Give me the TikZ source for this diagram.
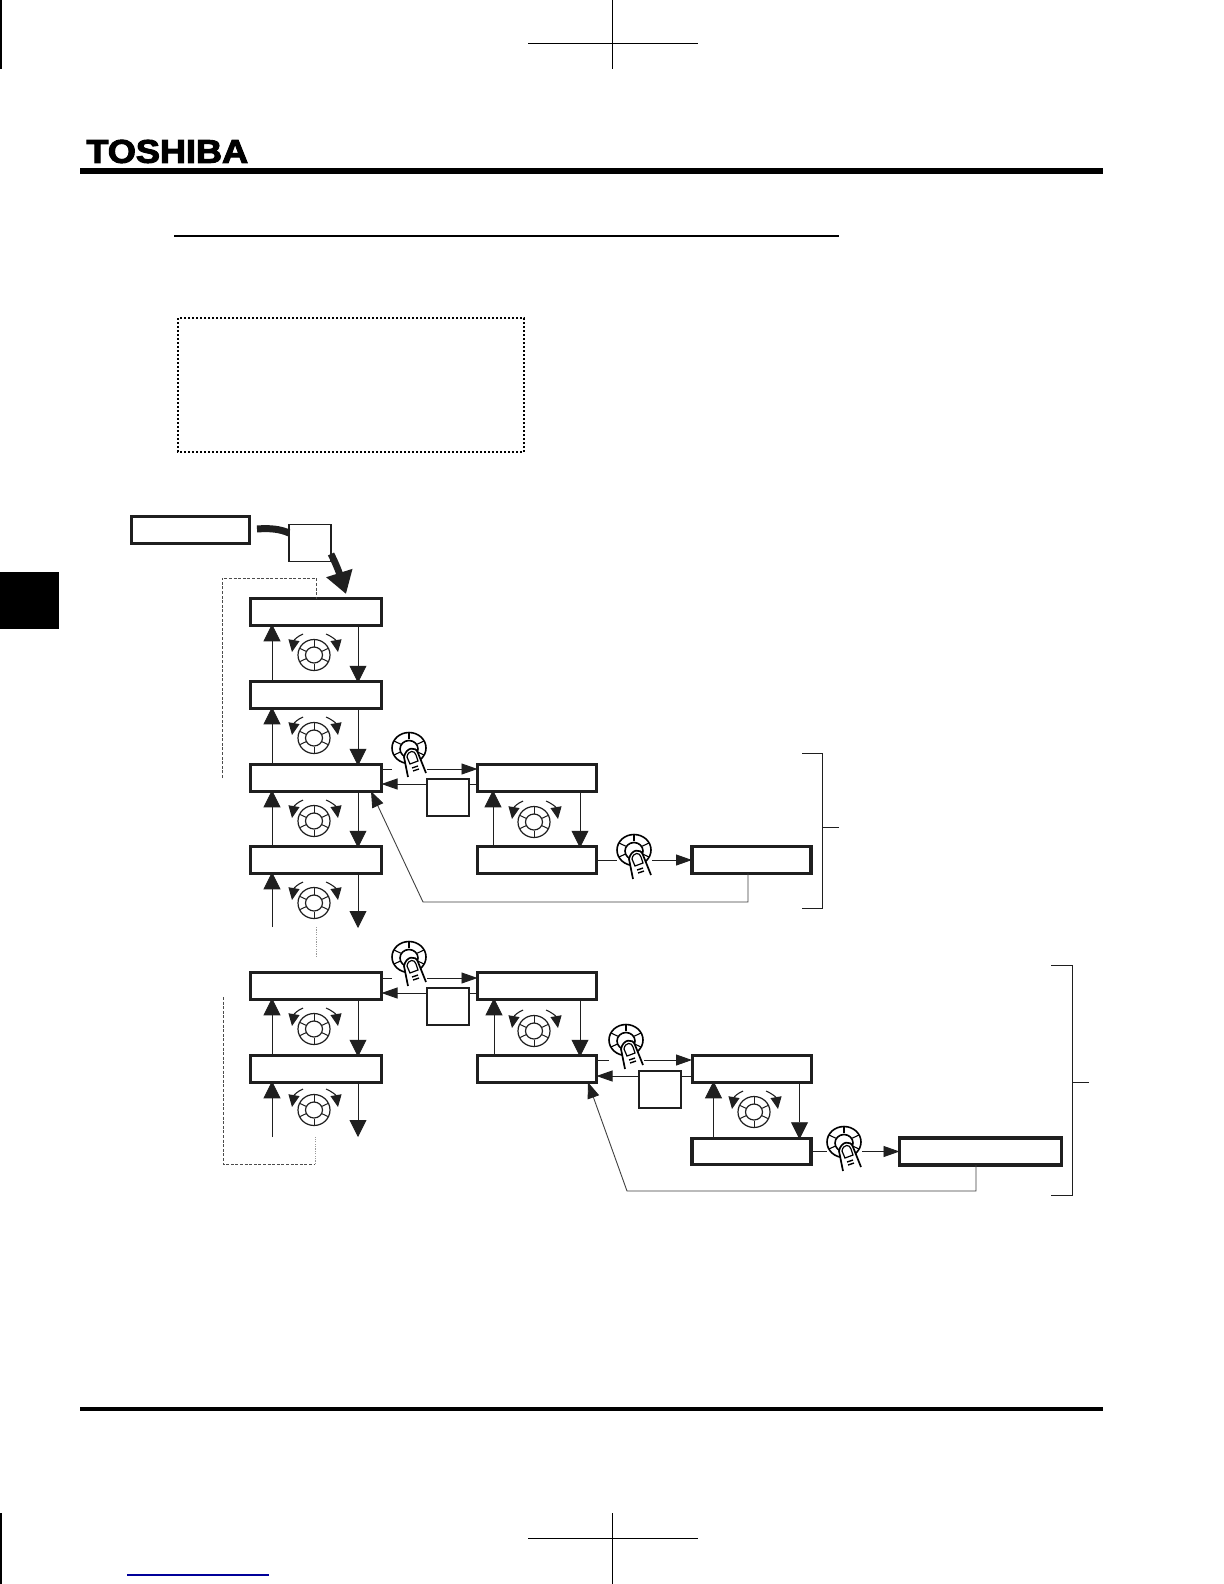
\documentclass[tikz,border=0pt]{standalone}
\usepackage{fontspec}
\usetikzlibrary{arrows.meta,calc}
\newfontfamily\logofont[BoldFeatures={FakeBold=3}]{Liberation Sans}
\definecolor{ink}{HTML}{1F1F1F}
\tikzset{
  lcd/.style={draw=ink,line width=1.5pt,fill=white,inner sep=0pt,outer sep=0pt,minimum width=65.5pt,minimum height=13.25pt},
  lcdm/.style={lcd,minimum width=59.5pt},
  lcdw/.style={lcd,line width=1.75pt,minimum width=81pt,minimum height=13.5pt},
  esckey/.style={draw=ink,line width=.75pt,fill=white,inner sep=0pt,outer sep=0pt,minimum width=21pt,minimum height=18.5pt},
  conn/.style={draw=ink,line width=.45pt},
  vup/.style={conn,-{Triangle[length=8.5pt,width=8.5pt]},shorten >=-.5pt},
  hor/.style={conn,-{Triangle[length=8pt,width=5.5pt]}},
  ret/.style={draw=ink!85,line width=.45pt,-{Triangle[length=8pt,width=6pt,color=ink,fill=ink]}},
  dashedlink/.style={draw=ink!80,line width=.45pt,dash pattern=on 1.5pt off .8pt},
  dottedlink/.style={draw=ink!45,line width=.5pt,dash pattern=on .6pt off .6pt},
  rule/.style={draw=black},
  dial/.pic={
    \draw[ink,line width=.6pt] (0,0) ellipse [x radius=16,y radius=15.5];
    \draw[ink,line width=.6pt] (0,0) ellipse [x radius=8.5,y radius=8];
    \foreach \a in {90,270,25,155,205,335}
      \draw[ink,line width=.5pt] (\a:8.5) -- (\a:15.5);
    \draw[ink,line width=.55pt,-{Triangle[length=6pt,width=5.5pt]}] (-11,-21) .. controls (-16,-19) and (-20,-15) .. (-22,-3);
    \draw[ink,line width=.55pt,-{Triangle[length=6pt,width=5.5pt]}] (12,-21) .. controls (17,-19) and (22,-15) .. (24,-3);
  },
  press/.pic={
    \draw[black,line width=.8pt] (0,0) ellipse [x radius=17,y radius=15.5];
    \draw[black,line width=.8pt] (0,1) ellipse [x radius=9,y radius=8.5];
    \foreach \a in {90,270,25,155,205,335}
      \draw[black,line width=.55pt] (\a:9) -- (\a:16.5);
    \fill[white] (-5,9) .. controls (-3,-1) and (7,-2) .. (9,5) -- (19,27) -- (0,31) -- cycle;
    \draw[black,line width=.85pt] (-1,29) -- (-5,9) .. controls (-3,-1) and (7,-2) .. (9,5) -- (17,25);
    \draw[black,line width=.6pt] (-2,9) .. controls (-1,2) and (6,2) .. (7,7) -- (9,13) -- (1,16) -- cycle;
    \draw[black,line width=.7pt] (3,20) -- (9,18) (4,23) -- (10,21);
    \coordinate (in) at (-17,0);
    \coordinate (out) at (18,0);
  }
}
\begin{document}
\begin{tikzpicture}[x=.5pt,y=-.5pt]
\useasboundingbox (0,0) rectangle (1224,1584);
\fill[white] (0,0) rectangle (1224,1584);

% crop marks
\draw[rule,line width=.6pt] (1,0) -- (1,69);
\draw[rule,line width=.6pt] (612.5,0) -- (612.5,69);
\draw[rule,line width=.6pt] (528,43.5) -- (698,43.5);
\draw[rule,line width=.6pt] (1,1513) -- (1,1584);
\draw[rule,line width=.6pt] (612.5,1513) -- (612.5,1584);
\draw[rule,line width=.6pt] (528,1538.5) -- (698,1538.5);
\draw[blue!60!black,line width=.6pt] (127,1575) -- (269,1575);

% header and page furniture
\node[anchor=south west,inner sep=0pt,xscale=1.1,font=\logofont\bfseries\fontsize{16.4}{16.4}\selectfont,text=black] (logo) at (86,163.5) {TOSHIBA};
\fill[black] (80,168) rectangle (1103,174);
\draw[rule,line width=1pt] (174,236) -- (839,236);
\fill[black] (0,572) rectangle (59,629);
\fill[black] (80,1407) rectangle (1103,1411);
\draw[black,line width=1.1pt,dash pattern=on 1pt off 1pt] (178,318) rectangle (524,452);

% displays
\node[lcdm,minimum width=59pt] (start) at (190,530) {};
\node[lcd] (A) at (316,612) {};
\node[lcd] (B) at (316,695) {};
\node[lcd] (C) at (316,778) {};
\node[lcd] (D) at (316,860) {};
\node[lcd] (H) at (316,986) {};
\node[lcd] (I) at (316,1069) {};
\node[lcdm] (E) at (537,778) {};
\node[lcdm] (F) at (537,860) {};
\node[lcdm] (J) at (537,986) {};
\node[lcdm] (K) at (537,1069) {};
\node[lcdm,line width=1.7pt] (G) at (751.5,860) {};
\node[lcdm] (L) at (751.5,1069) {};
\node[lcdm,line width=1.7pt] (M) at (751.5,1151.5) {};
\node[lcdw] (N) at (980.5,1151.5) {};

% dials
\pic at (314,655) {dial};
\pic at (314,738) {dial};
\pic at (314,821) {dial};
\pic at (314,903) {dial};
\pic at (314,1029) {dial};
\pic at (314,1110) {dial};
\pic at (534,822) {dial};
\pic at (534,1031) {dial};
\pic at (754,1112) {dial};

% vertical connectors
\foreach \u/\l in {B/A,C/B,D/C,I/H}
  \draw[vup] ([xshift=-22pt]\u.north) -- ([xshift=-22pt]\l.south);
\foreach \u/\l in {A/B,B/C,C/D,H/I}
  \draw[vup] ([xshift=21pt]\u.south) -- ([xshift=21pt]\l.north);
\draw[vup] ([xshift=-22pt]F.north) -- ([xshift=-22pt]E.south);
\draw[vup] ([xshift=21.5pt]E.south) -- ([xshift=21.5pt]F.north);
\draw[vup] ([xshift=-21.5pt]K.north) -- ([xshift=-21.5pt]J.south);
\draw[vup] ([xshift=21.5pt]J.south) -- ([xshift=21.5pt]K.north);
\draw[vup] ([xshift=-19pt]M.north) -- ([xshift=-19pt]L.south);
\draw[vup] ([xshift=24pt]L.south) -- ([xshift=24pt]M.north);

% open-ended arrows below D and I
\coordinate (dup) at (272,927);
\coordinate (ddn) at (358,927);
\coordinate (iup) at (272,1137);
\coordinate (idn) at (358,1136);
\draw[vup] (dup) -- (dup |- D.south);
\draw[vup] (D.south -| ddn) -- (ddn);
\draw[vup] (iup) -- (iup |- I.south);
\draw[vup] (I.south -| idn) -- (idn);

% keys pressed
\pic (p1) at (409,748) {press};
\pic (p2) at (634,850) {press};
\pic (p3) at (409,957) {press};
\pic (p4) at (626,1040) {press};
\pic (p5) at (844,1142) {press};

\draw[conn] ([yshift=4.5pt]C.east) -- ([yshift=4.5pt]C.east -| p1in);
\draw[hor] ([yshift=4.5pt]E.west -| p1out) -- ([yshift=4.5pt]E.west);
\draw[conn] (F.east) -- (F.east -| p2in);
\draw[hor] (G.west -| p2out) -- (G.west);
\draw[conn] ([yshift=4pt]H.east) -- ([yshift=4pt]H.east -| p3in);
\draw[hor] ([yshift=4pt]J.west -| p3out) -- ([yshift=4pt]J.west);
\draw[conn] ([yshift=4.5pt]K.east) -- ([yshift=4.5pt]K.east -| p4in);
\draw[hor] ([yshift=4.5pt]L.west -| p4out) -- ([yshift=4.5pt]L.west);
\draw[conn] (M.east) -- (M.east -| p5in);
\draw[hor] (N.west -| p5out) -- (N.west);

% ESC keys
\node[esckey] (k1) at (310,543) {};
\node[esckey] (k2) at (448,797.5) {};
\node[esckey] (k3) at (448,1006.5) {};
\node[esckey] (k4) at (660,1089.5) {};
\draw[hor] ([yshift=-3pt]C.east -| k2.west) -- ([yshift=-3pt]C.east);
\draw[conn] ([yshift=-3pt]E.west -| k2.east) -- ([yshift=-3pt]E.west);
\draw[hor] ([yshift=-3.5pt]H.east -| k3.west) -- ([yshift=-3.5pt]H.east);
\draw[conn] ([yshift=-3.5pt]J.west -| k3.east) -- ([yshift=-3.5pt]J.west);
\draw[hor] ([yshift=-3.5pt]K.east -| k4.west) -- ([yshift=-3.5pt]K.east);
\draw[conn] ([yshift=-3.5pt]L.west -| k4.east) -- ([yshift=-3.5pt]L.west);

% thick entry arrow
\coordinate (s0) at (257,529);
\coordinate (s1) at (289,533);
\coordinate (s2) at (331,554);
\coordinate (s3) at (346,594);
\draw[ink,line width=3.5pt] (s0) .. controls (270,528) and (280,529) .. (s1);
\draw[ink,line width=3.4pt,-{Triangle[length=11pt,width=13pt]}] (s2) .. controls (336,564) and (339,572) .. (s3);

% return paths
\coordinate (r1) at (423,902);
\coordinate (r2) at (627,1191);
\draw[ret] ([xshift=-1.75pt]G.south) |- (r1) -- ([xshift=27.5pt]C.south);
\draw[ret] ([xshift=-2.25pt]N.south) |- (r2) -- ([xshift=25.5pt]K.south);

% loop-back lines
\coordinate (t1) at (222,778);
\coordinate (t2) at (222,578);
\coordinate (u1) at (223,997);
\coordinate (u2) at (223,1164);
\coordinate (u3) at (315,1137);
\coordinate (m1) at (316,927);
\coordinate (m2) at (316,958);
\draw[dashedlink] (t1) -- (t2) -| (A.north);
\draw[dashedlink] (u1) -- (u2) -- (u2 -| u3);
\draw[dottedlink] (u2 -| u3) -- (u3);
\draw[dottedlink] (m1) -- (m2);

% brackets
\coordinate (b1) at (802,753);
\coordinate (b2) at (822,908);
\coordinate (b3) at (839,827);
\coordinate (b4) at (1051,965);
\coordinate (b5) at (1072,1195);
\coordinate (b6) at (1089,1082);
\draw[conn] (b1) -| (b2) -- (b2 -| b1);
\draw[conn] (b3) -- (b3 -| b2);
\draw[conn] (b4) -| (b5) -- (b5 -| b4);
\draw[conn] (b6) -- (b6 -| b5);
\end{tikzpicture}
\end{document}
